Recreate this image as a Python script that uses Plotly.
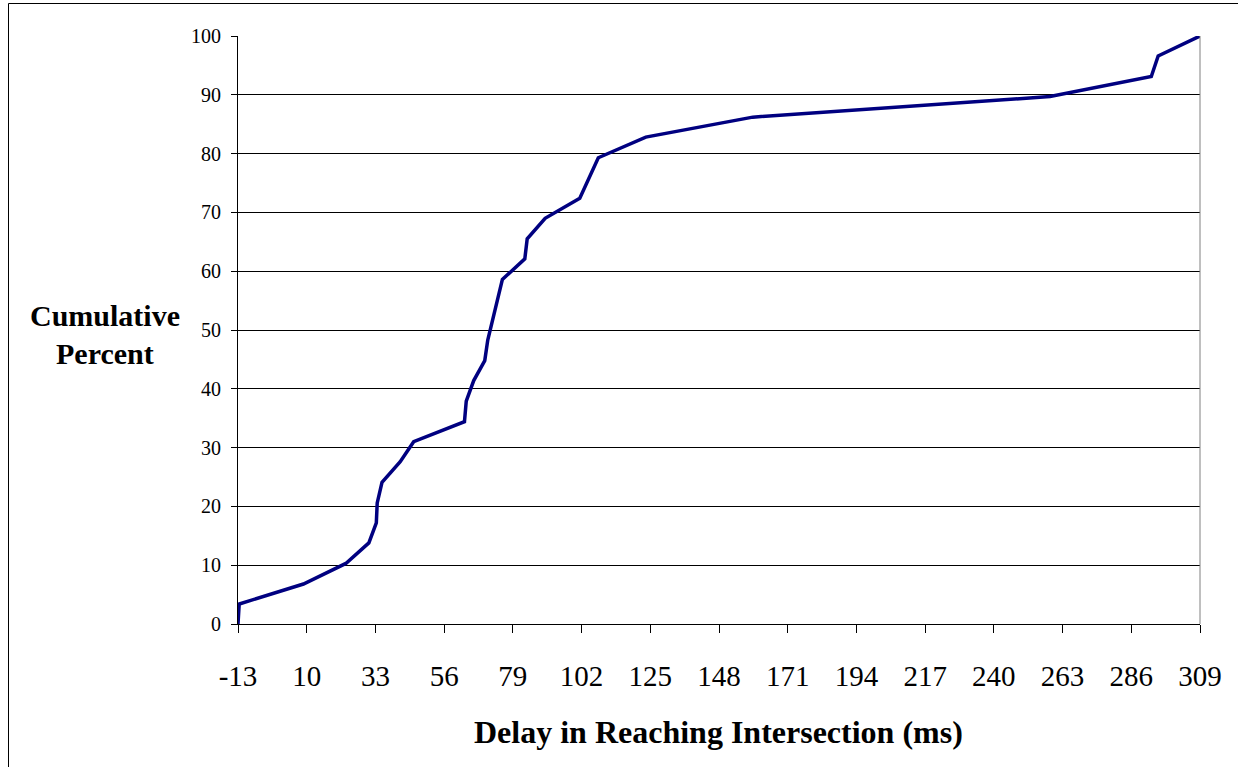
import plotly.graph_objects as go

# Data
delay_ms = [-13, -12.6, 8.9, 23.1, 30.8, 33.3, 33.6, 35.2, 41.3, 45.8, 62.8, 63.4,
            65.9, 69.6, 70.6, 75.5, 83.0, 83.8, 89.8, 101.4, 107.6, 123.5, 159.3,
            258.8, 292.7, 295.0, 309]
cum_percent = [0, 3.4, 6.8, 10.3, 13.8, 17.2, 20.6, 24.1, 27.6, 31.0, 34.4, 37.9,
               41.4, 44.8, 48.3, 58.6, 62.1, 65.5, 69.0, 72.4, 79.3, 82.8, 86.2,
               89.7, 93.1, 96.6, 100]
x_ticks = [-13, 10, 33, 56, 79, 102, 125, 148, 171, 194, 217, 240, 263, 286, 309]
y_ticks = [0, 10, 20, 30, 40, 50, 60, 70, 80, 90, 100]

W, H = 1238, 767
L, R, T, B = 238, 38, 36, 143
pw, ph = W - L - R, H - T - B

def px_x(p):
    return (p - L) / pw

def px_y(p):
    return (H - B - p) / ph

fig = go.Figure()
fig.add_trace(go.Scatter(
    x=delay_ms, y=cum_percent, mode="lines",
    line=dict(color="#000080", width=3.5),
    showlegend=False, hoverinfo="x+y",
))

fig.update_layout(
    width=W, height=H,
    margin=dict(l=L, r=R, t=T, b=B),
    paper_bgcolor="white", plot_bgcolor="white",
    font=dict(family="Liberation Serif, Times New Roman, serif", color="black"),
    xaxis=dict(
        range=[-13, 309], tickmode="array", tickvals=x_ticks,
        ticktext=[str(v) for v in x_ticks],
        showgrid=False, zeroline=False,
        showline=True, linecolor="black", linewidth=1,
        ticks="outside", ticklen=8, tickcolor="black",
        tickfont=dict(size=29, family="Liberation Serif, serif"),
        ticklabelstandoff=18,
    ),
    yaxis=dict(
        range=[0, 100], tickmode="array", tickvals=y_ticks,
        showgrid=True, gridcolor="black", gridwidth=1,
        zeroline=False,
        showline=True, linecolor="black", linewidth=1,
        ticks="outside", ticklen=6, tickcolor="black",
        tickfont=dict(size=20, family="Liberation Serif, serif"),
        ticklabelstandoff=6,
    ),
    shapes=[
        dict(type="line", xref="paper", yref="paper", x0=1, x1=1, y0=0, y1=1,
             line=dict(color="#808080", width=1)),
        dict(type="rect", xref="paper", yref="paper",
             x0=px_x(8.5), x1=px_x(1245), y0=px_y(775), y1=px_y(3.5),
             line=dict(color="black", width=1), fillcolor="rgba(0,0,0,0)",
             layer="below"),
    ],
    annotations=[
        dict(text="<b>Cumulative</b>", xref="paper", yref="paper",
             x=px_x(105), y=px_y(315), showarrow=False,
             xanchor="center", yanchor="middle",
             font=dict(size=30, family="Liberation Serif, serif")),
        dict(text="<b>Percent</b>", xref="paper", yref="paper",
             x=px_x(105), y=px_y(353), showarrow=False,
             xanchor="center", yanchor="middle",
             font=dict(size=30, family="Liberation Serif, serif")),
        dict(text="<b>Delay in Reaching Intersection (ms)</b>", xref="paper", yref="paper",
             x=px_x(718), y=px_y(732), showarrow=False,
             xanchor="center", yanchor="middle",
             font=dict(size=32, family="Liberation Serif, serif")),
    ],
)

fig.write_html("out.html")
